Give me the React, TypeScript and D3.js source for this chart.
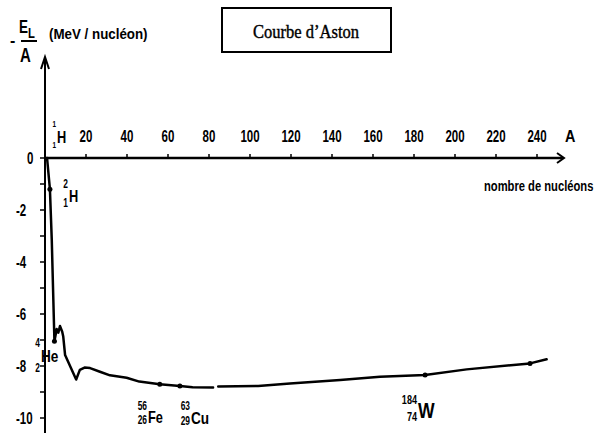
import React from 'react';
import * as d3 from 'd3';

// Courbe d'Aston : -E_L/A (MeV/nucléon) en fonction du nombre de nucléons A
const massNumbers = [
  1, 2.4, 3.3, 4.6, 5.7, 6.5, 7.3, 8.4, 8.9, 9.8, 15.2, 17, 19.3, 22, 26.8, 31.7, 39.8, 46, 56,
  65.8, 72, 82, NaN, 84.5, 104, 119.5, 144, 163.4, 185.4, 205.7, 236.6, 244.7,
];
const bindingEnergy = [
  0, -1.2, -3.15, -7.05, -6.58, -6.72, -6.46, -6.68, -6.87, -7.58, -8.52, -8.15, -8.06, -8.08,
  -8.22, -8.36, -8.45, -8.6, -8.7, -8.77, -8.82, -8.83, NaN, -8.79, -8.77, -8.67, -8.54, -8.41,
  -8.35, -8.13, -7.9, -7.74,
];

// points marqués sur la courbe
const dotMass = [2.4, 4.6, 56, 65.8, 185.4, 236.6];
const dotEnergy = [-1.2, -7.05, -8.7, -8.77, -8.35, -7.9];

// noyaux annotés
const nuclideSymbols = ['H', 'H', 'He', 'Fe', 'Cu', 'W'];
const nuclideMass = ['1', '2', '4', '56', '63', '184'];
const nuclideCharge = ['1', '1', '2', '26', '29', '74'];

const xTicks = [20, 40, 60, 80, 100, 120, 140, 160, 180, 200, 220, 240];
const yTicks = [0, -1, -2, -3, -4, -5, -6, -7, -8, -9, -10];
const yLabels = [0, -2, -4, -6, -8, -10];

// mise en page des annotations (pixels)
const nuclideLayout = [
  { x: 57, y: 143, fs: 16, nfs: 9, massY: 127, chargeY: 148 },
  { x: 69, y: 202, fs: 16, nfs: 12, massY: 188, chargeY: 207 },
  { x: 41, y: 362, fs: 17, nfs: 12, massY: 347, chargeY: 372 },
  { x: 148, y: 423, fs: 16, nfs: 12, massY: 410, chargeY: 424 },
  { x: 191, y: 424, fs: 17, nfs: 12, massY: 410, chargeY: 425 },
  { x: 418, y: 418, fs: 22, nfs: 13, massY: 404, chargeY: 421 },
];

const sans = "'Liberation Sans', Arial, sans-serif";
const serif = "'Liberation Serif', 'Times New Roman', serif";

// texte condensé horizontalement
function T(props: {
  x: number;
  y: number;
  size: number;
  sx?: number;
  anchor?: string;
  children: React.ReactNode;
}) {
  const sx = props.sx ?? 0.72;
  return (
    <text
      transform={`translate(${props.x},${props.y}) scale(${sx},1)`}
      fontFamily={sans}
      fontWeight="bold"
      fontSize={props.size}
      textAnchor={props.anchor || 'start'}
    >
      {props.children}
    </text>
  );
}

export default function App() {
  const width = 599,
    height = 433;

  const x = d3.scaleLinear().domain([0, 240]).range([45, 537]);
  const y = d3.scaleLinear().domain([0, -10]).range([158, 418]);

  const points = massNumbers.map((a, i) => [a, bindingEnergy[i]] as [number, number]);
  const line = d3
    .line<[number, number]>()
    .defined((d) => !isNaN(d[0]))
    .x((d) => x(d[0]))
    .y((d) => y(d[1]));

  const x0 = x(0),
    y0 = y(0);

  return (
    <svg
      width={width}
      height={height}
      style={{ position: 'absolute', left: 0, top: 0, background: '#fff' }}
    >
      {/* titre */}
      <rect x={222} y={8} width={169} height={44} fill="none" stroke="#000" strokeWidth={2} />
      <text
        x={306}
        y={38}
        textAnchor="middle"
        fontFamily={serif}
        fontSize={18}
        stroke="#000"
        strokeWidth={0.4}
        textLength={106}
        lengthAdjust="spacingAndGlyphs"
      >
        Courbe d’Aston
      </text>

      {/* label axe y */}
      <T x={10} y={46} size={16} sx={1}>
        -
      </T>
      <T x={19} y={33} size={18} sx={0.75}>
        E
      </T>
      <T x={28} y={38} size={15} sx={0.75}>
        L
      </T>
      <line x1={21} x2={37} y1={41} y2={41} stroke="#000" strokeWidth={2} />
      <T x={20} y={62} size={20} sx={0.75}>
        A
      </T>
      <T x={49} y={39} size={15} sx={0.89}>
        (MeV / nucléon)
      </T>

      {/* axes */}
      <line x1={x0} x2={x0} y1={58} y2={height} stroke="#000" strokeWidth={2} />
      <path d={`M${x0 - 4},69 L${x0},57 L${x0 + 4},69`} fill="none" stroke="#000" strokeWidth={2} />
      <line x1={x0} x2={563} y1={y0} y2={y0} stroke="#000" strokeWidth={2.5} />
      <path d={`M557,153 L564,${y0} L557,163`} fill="none" stroke="#000" strokeWidth={2} />

      {xTicks.map((t) => (
        <g key={'x' + t}>
          <line x1={x(t)} x2={x(t)} y1={y0 - 4} y2={y0} stroke="#000" strokeWidth={1.5} />
          <T x={x(t)} y={142} size={16} anchor="middle" sx={0.72}>
            {t}
          </T>
        </g>
      ))}
      {yTicks.map((t) => (
        <line key={'y' + t} x1={x0 - 5} x2={x0} y1={y(t)} y2={y(t)} stroke="#000" strokeWidth={1.5} />
      ))}
      {yLabels.map((t) => (
        <T key={'yl' + t} x={t === 0 ? 27 : 16} y={y(t) + 6} size={16} sx={0.72}>
          {t === 0 ? '0' : '-' + Math.abs(t)}
        </T>
      ))}

      <T x={565} y={142} size={16} sx={0.9}>
        A
      </T>
      <T x={484} y={191} size={14} sx={0.8}>
        nombre de nucléons
      </T>

      {/* courbe */}
      <path
        d={line(points) || ''}
        fill="none"
        stroke="#000"
        strokeWidth={2.5}
        strokeLinejoin="round"
        strokeLinecap="round"
      />
      {dotMass.map((a, i) => (
        <circle key={'d' + i} cx={x(a)} cy={y(dotEnergy[i])} r={2.5} fill="#000" />
      ))}

      {/* annotations des noyaux */}
      {nuclideSymbols.map((s, i) => {
        const l = nuclideLayout[i];
        return (
          <g key={'n' + i}>
            <T x={l.x - 1} y={l.massY} size={l.nfs} anchor="end" sx={0.7}>
              {nuclideMass[i]}
            </T>
            <T x={l.x - 1} y={l.chargeY} size={l.nfs} anchor="end" sx={0.7}>
              {nuclideCharge[i]}
            </T>
            <T x={l.x} y={l.y} size={l.fs} sx={0.8}>
              {s}
            </T>
          </g>
        );
      })}
    </svg>
  );
}
